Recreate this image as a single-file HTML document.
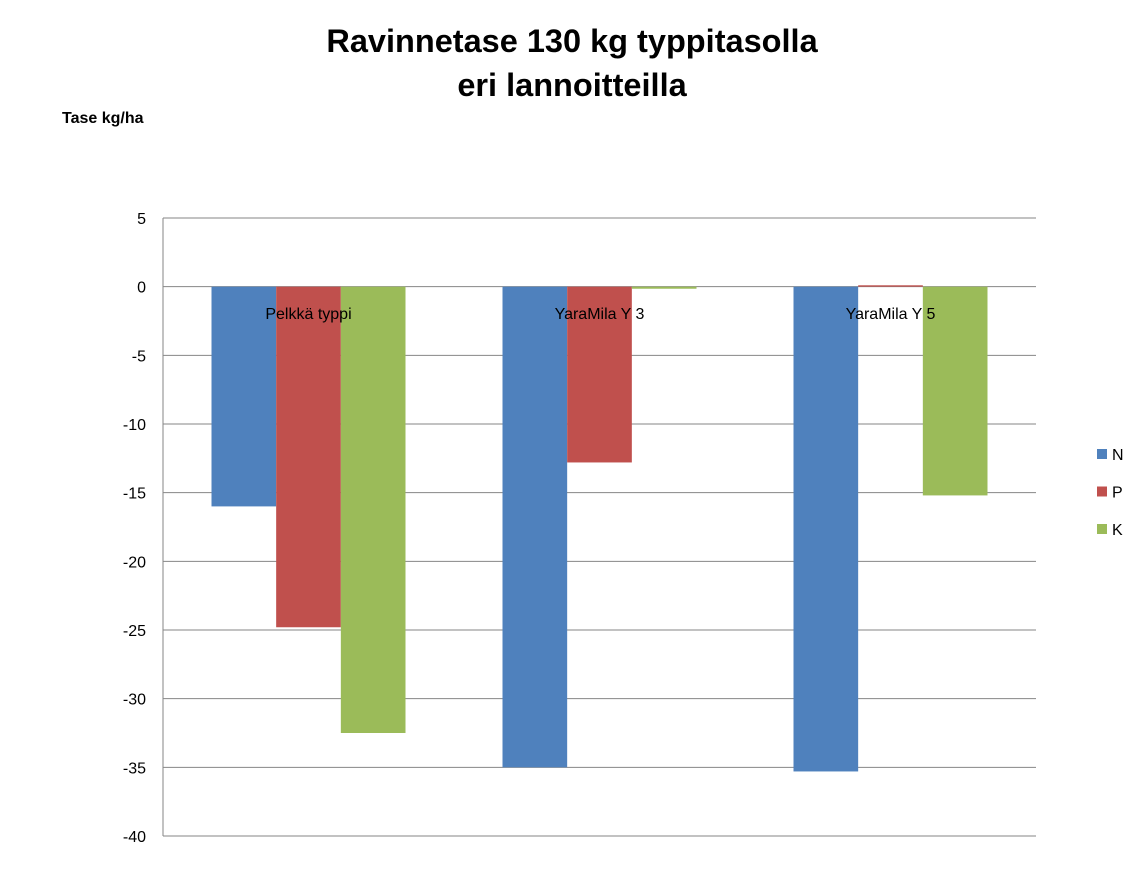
<!DOCTYPE html>
<html><head><meta charset="utf-8"><style>
body{margin:0;background:#fff;}
svg text{font-family:"Liberation Sans",Arial,sans-serif;}
</style></head><body>
<svg width="1146" height="874">
<text x="572" y="52" text-anchor="middle" font-size="32.5" font-weight="bold">Ravinnetase 130 kg typpitasolla</text>
<text x="572" y="96" text-anchor="middle" font-size="32.5" font-weight="bold">eri lannoitteilla</text>
<text x="62" y="123" font-size="16" font-weight="bold">Tase kg/ha</text>
<g id="grid"></g><g id="bars"></g><g id="labels"></g>
<g id="legend"></g>
</svg>
<script>
const categories=["Pelkkä typpi","YaraMila Y 3","YaraMila Y 5"];
const seriesNames=["N","P","K"];
const nValues=[-16,-35,-35.3];
const pValues=[-24.8,-12.8,0.1];
const kValues=[-32.5,-0.15,-15.2];
const ticks=[5,0,-5,-10,-15,-20,-25,-30,-35,-40];
const colors=["#4f81bd","#c0504d","#9bbb59"];
const NS="http://www.w3.org/2000/svg";
const L=163,R=1036,T=218,B=836,maxV=5,minV=-40;
const y=v=>T+(maxV-v)/(maxV-minV)*(B-T);
const grid=document.getElementById('grid'),bars=document.getElementById('bars'),labels=document.getElementById('labels'),legend=document.getElementById('legend');
function mk(tag,a,p){const e=document.createElementNS(NS,tag);for(const k in a)e.setAttribute(k,a[k]);p.appendChild(e);return e;}
ticks.forEach(t=>{
 const l=mk('line',{x1:L,x2:R,y1:y(t),y2:y(t),stroke:'#868686','stroke-width':1},grid);
 
 
 const tx=mk('text',{x:146,y:y(t)+6,'text-anchor':'end','font-size':16},grid);tx.textContent=t;
 
 
});
const ax=mk('line',{x1:L,x2:L,y1:T,y2:B,stroke:'#868686'},grid);


const series=[nValues,pValues,kValues];
const gw=(R-L)/categories.length,bw=gw/4.5;
categories.forEach((c,i)=>{
 const cx=L+gw*(i+0.5);
 series.forEach((s,j)=>{
  const v=s[i],x=cx-1.5*bw+j*bw;
  const r=mk('rect',{x:x,y:Math.min(y(v),y(0)),width:bw,height:Math.max(Math.abs(y(v)-y(0)),1),fill:colors[j]},bars);
  
  
 });
 const t=mk('text',{x:cx,y:319,'text-anchor':'middle','font-size':16},labels);t.textContent=c;
 
 
});
seriesNames.forEach((n,j)=>{
 const yy=454+j*37.5;
 const r=mk('rect',{x:1097,y:yy-5,width:10,height:10,fill:colors[j]},legend);
 
 
 const t=mk('text',{x:1112,y:yy+6,'font-size':16},legend);t.textContent=n;
 
 
});
</script>
</body></html>
